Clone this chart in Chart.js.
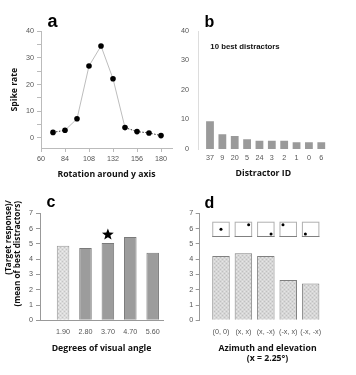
<!DOCTYPE html>
<html><head><meta charset="utf-8">
<script src="https://cdn.jsdelivr.net/npm/chart.js@4/dist/chart.umd.min.js"></script>
<style>
html,body{margin:0;padding:0;background:#fff;}
#wrap{position:relative;width:356px;height:375px;overflow:hidden;background:#fff;}
canvas{position:absolute;}
</style></head><body>
<div id="wrap">
<canvas id="ca" width="178" height="187" style="left:0;top:0"></canvas>
<canvas id="cb" width="178" height="187" style="left:178px;top:0"></canvas>
<canvas id="cc" width="178" height="188" style="left:0;top:187px"></canvas>
<canvas id="cd" width="178" height="188" style="left:178px;top:187px"></canvas>
</div>
<script>
// ---- Panel a: spike rate vs rotation ----
const rotationAngles = [72, 84, 96, 108, 120, 132, 144, 156, 168, 180];
const spikeRates = [2.1, 2.9, 7.2, 27, 34.5, 22.2, 3.9, 2.4, 1.9, 0.9];
const rotationTicks = [60, 84, 108, 132, 156, 180];
const spikeTicks = [0, 5, 10, 15, 20, 25, 30, 35, 40];
// ---- Panel b: 10 best distractors ----
const distractorIds = ['37', '9', '20', '5', '24', '3', '2', '1', '0', '6'];
const distractorRates = [9.4, 5.0, 4.4, 3.3, 2.8, 2.8, 2.8, 2.3, 2.3, 2.3];
const distractorTicks = [0, 10, 20, 30, 40];
// ---- Panel c: size invariance ----
const visualAngles = ['1.90', '2.80', '3.70', '4.70', '5.60'];
const sizeRatios = [4.88, 4.73, 5.05, 5.45, 4.42];
const sizeSignificant = [false, false, true, false, false];
// ---- Panel d: position invariance ----
const positions = ['(0, 0)', '(x, x)', '(x, -x)', '(-x, x)', '(-x, -x)'];
const positionRatios = [4.2, 4.38, 4.2, 2.64, 2.4];
const azimuthSign = [0, 1, 1, -1, -1];
const elevationSign = [0, 1, -1, 1, -1];
const ratioTicks = [0, 1, 2, 3, 4, 5, 6, 7];

const TICK_FONT = {family: "'Liberation Sans', Arial, sans-serif", size: 7.2};
const TITLE_FONT = {family: "'Open Sans', sans-serif", size: 8.7, weight: 'bold', lineHeight: 1.2};
const TICK_COLOR = '#555';
const LETTER_FONT = 'bold 18px "Liberation Sans", Arial, sans-serif';
const LETTER_FONT_S = 'bold 16px "Liberation Sans", Arial, sans-serif';

function makeDeco(texts) {
  return {
    id: 'deco',
    afterDraw(chart) {
      const ctx = chart.ctx;
      texts.forEach(t => {
        ctx.save();
        ctx.font = t.font; ctx.fillStyle = t.color || '#000';
        ctx.textAlign = t.align || 'left'; ctx.textBaseline = t.baseline || 'alphabetic';
        ctx.translate(t.x, t.y); if (t.rot) ctx.rotate(t.rot);
        ctx.fillText(t.text, 0, 0);
        ctx.restore();
      });
    }
  };
}
function stipple(base, dark, light) {
  const c = document.createElement('canvas'); c.width = 4; c.height = 4;
  const g = c.getContext('2d');
  g.fillStyle = base; g.fillRect(0, 0, 4, 4);
  g.fillStyle = dark; g.fillRect(0, 0, 1, 1); g.fillRect(2, 2, 1, 1);
  g.fillStyle = light; g.fillRect(2, 0, 1, 1); g.fillRect(0, 2, 1, 1);
  return g.createPattern(c, 'repeat');
}
const setTicks = arr => s => { s.ticks = arr.map(v => ({value: v})); };
const baseOpts = {responsive: false, animation: false, plugins: {legend: {display: false}, tooltip: {enabled: false}}};

// ---- a ----
const isDashed = c => c.p0DataIndex === 0 || c.p0DataIndex >= 6;
new Chart(document.getElementById('ca'), {
  type: 'line',
  data: {datasets: [{
    data: rotationAngles.map((x, i) => ({x, y: spikeRates[i]})),
    borderColor: '#bdbdbd', borderWidth: 1, tension: 0,
    pointRadius: 2.8, pointBackgroundColor: '#000', pointBorderWidth: 0,
    segment: {borderColor: c => isDashed(c) ? '#333' : undefined, borderDash: c => isDashed(c) ? [1.5, 1.5] : undefined}
  }]},
  options: Object.assign({}, baseOpts, {
    layout: {padding: {left: 0, top: 31.3, right: 6, bottom: 0}},
    scales: {
      x: {type: 'linear', min: 60, max: 191, afterBuildTicks: setTicks(rotationTicks), afterFit: s => { s.height = 39; },
        grid: {drawOnChartArea: false, tickLength: 4, color: '#bbb'}, border: {color: '#bbb'},
        ticks: {font: TICK_FONT, color: TICK_COLOR, padding: 2.8, maxRotation: 0, autoSkip: false},
        title: {display: true, text: 'Rotation around y axis', font: TITLE_FONT, color: '#111', padding: {top: 0, bottom: 7.5}}},
      y: {min: -3.75, max: 40, afterBuildTicks: setTicks(spikeTicks), afterFit: s => { s.width = 41; },
        grid: {drawOnChartArea: false, tickLength: 4, color: '#bbb'}, border: {color: '#bbb'},
        ticks: {font: TICK_FONT, color: TICK_COLOR, padding: 3, callback: v => v % 10 === 0 ? v : ''},
        title: {display: true, text: 'Spike rate', font: TITLE_FONT, color: '#111', padding: {top: 9.5, bottom: 0}}}
    }
  }),
  plugins: [makeDeco([{text: 'a', x: 47.5, y: 27.3, font: LETTER_FONT}])]
});

// ---- b ----
new Chart(document.getElementById('cb'), {
  type: 'bar',
  data: {datasets: [{
    data: distractorRates.map((y, i) => ({x: i, y})),
    backgroundColor: '#9a9a9a', borderWidth: 0, barPercentage: 0.63, categoryPercentage: 1
  }]},
  options: Object.assign({}, baseOpts, {
    layout: {padding: {left: 0, top: 31, right: 27.3, bottom: 0}},
    scales: {
      x: {type: 'linear', min: -0.97, max: 9.6, offset: false, afterBuildTicks: setTicks(distractorIds.map((_, i) => i)), afterFit: s => { s.height = 38; },
        grid: {display: false, drawTicks: false, offset: false}, border: {display: false},
        ticks: {font: TICK_FONT, color: TICK_COLOR, padding: 5, maxRotation: 0, autoSkip: false, callback: v => distractorIds[v]},
        title: {display: true, text: 'Distractor ID', font: TITLE_FONT, color: '#111', padding: {top: 0, bottom: 7.9}}},
      y: {min: 0, max: 40, afterBuildTicks: setTicks(distractorTicks), afterFit: s => { s.width = 20; },
        grid: {display: false, drawTicks: false}, border: {color: '#ddd'},
        ticks: {font: TICK_FONT, color: TICK_COLOR, padding: 9}}
    }
  }),
  plugins: [makeDeco([
    {text: 'b', x: 26.5, y: 26.7, font: LETTER_FONT_S},
    {text: '10 best distractors', x: 32.3, y: 48.7, font: 'bold 7.8px "Liberation Sans", Arial, sans-serif', color: '#111'}
  ])]
});

// ---- c ----
const starPlugin = {
  id: 'star',
  afterDatasetsDraw(chart) {
    const meta = chart.getDatasetMeta(0); const ctx = chart.ctx;
    sizeSignificant.forEach((sig, i) => {
      if (!sig) return;
      const bar = meta.data[i]; const cx = bar.x, cy = bar.y - 8.5;
      ctx.save(); ctx.beginPath();
      for (let k = 0; k < 10; k++) {
        const r = k % 2 === 0 ? 6.2 : 2.6; const a = -Math.PI / 2 + k * Math.PI / 5;
        const px = cx + r * Math.cos(a), py = cy + r * Math.sin(a);
        k === 0 ? ctx.moveTo(px, py) : ctx.lineTo(px, py);
      }
      ctx.closePath(); ctx.fillStyle = '#000'; ctx.fill(); ctx.restore();
    });
  }
};
const lightC = stipple('#dcdcdc', '#c4c4c4', '#ececec');
new Chart(document.getElementById('cc'), {
  type: 'bar',
  data: {datasets: [{
    data: sizeRatios.map((y, i) => ({x: i, y})),
    backgroundColor: sizeRatios.map((_, i) => i === 0 ? lightC : '#9c9c9c'),
    borderColor: sizeRatios.map((_, i) => i === 0 ? '#9a9a9a' : '#7a7a7a'),
    borderWidth: 1, barPercentage: 0.56, categoryPercentage: 1
  }]},
  options: Object.assign({}, baseOpts, {
    layout: {padding: {left: 0, top: 26.3, right: 15, bottom: 0}},
    scales: {
      x: {type: 'linear', min: -1.03, max: 4.46, offset: false, afterBuildTicks: setTicks(visualAngles.map((_, i) => i)), afterFit: s => { s.height = 54.7; },
        grid: {display: false, drawTicks: false, offset: false}, border: {color: '#999'},
        ticks: {font: TICK_FONT, color: TICK_COLOR, padding: 7.2, maxRotation: 0, autoSkip: false, callback: v => visualAngles[v]},
        title: {display: true, text: 'Degrees of visual angle', font: TITLE_FONT, color: '#111', padding: {top: 0, bottom: 21.4}}},
      y: {min: 0, max: 7, afterBuildTicks: setTicks(ratioTicks), afterFit: s => { s.width = 40; },
        grid: {drawOnChartArea: false, tickLength: 4, color: '#999'}, border: {color: '#999'},
        ticks: {font: TICK_FONT, color: TICK_COLOR, padding: 3}}
    }
  }),
  plugins: [starPlugin, makeDeco([
    {text: 'c', x: 46.5, y: 20.3, font: LETTER_FONT_S},
    {text: '(Target response)/', x: 8.5, y: 13, rot: -Math.PI / 2, align: 'right', baseline: 'middle', font: 'bold 8.2px "Open Sans", sans-serif', color: '#111'},
    {text: '(mean of best distractors)', x: 18, y: 14, rot: -Math.PI / 2, align: 'right', baseline: 'middle', font: 'bold 8.2px "Open Sans", sans-serif', color: '#111'}
  ])]
});

// ---- d ----
const iconPlugin = {
  id: 'icons',
  afterDatasetsDraw(chart) {
    const meta = chart.getDatasetMeta(0); const ctx = chart.ctx; const y = chart.scales.y;
    const top = y.getPixelForValue(6.45), bot = y.getPixelForValue(5.45);
    meta.data.forEach((bar, i) => {
      const hw = bar.width / 2, cx = bar.x, cy = (top + bot) / 2, hh = (bot - top) / 2;
      ctx.save();
      ctx.strokeStyle = '#b0b0b0'; ctx.lineWidth = 1;
      ctx.strokeRect(cx - hw + 0.5, top + 0.5, hw * 2 - 1, bot - top - 1);
      ctx.strokeStyle = '#808080';
      ctx.beginPath(); ctx.moveTo(cx - hw, bot - 0.5); ctx.lineTo(cx + hw, bot - 0.5); ctx.stroke();
      ctx.fillStyle = '#000'; ctx.beginPath();
      ctx.arc(cx + azimuthSign[i] * (hw - 3.5), cy - elevationSign[i] * (hh - 3), 1.5, 0, Math.PI * 2);
      ctx.fill(); ctx.restore();
    });
  }
};
const lightD = stipple('#d6d6d6', '#c0c0c0', '#e6e6e6');
new Chart(document.getElementById('cd'), {
  type: 'bar',
  data: {datasets: [{
    data: positionRatios.map((y, i) => ({x: i, y})),
    backgroundColor: lightD, borderColor: '#808080', borderWidth: 1, barPercentage: 0.78, categoryPercentage: 1
  }]},
  options: Object.assign({}, baseOpts, {
    layout: {padding: {left: 0, top: 26.3, right: 20.7, bottom: 0}},
    scales: {
      x: {type: 'linear', min: -0.95, max: 5.1, offset: false, afterBuildTicks: setTicks(positions.map((_, i) => i)), afterFit: s => { s.height = 54.7; },
        grid: {display: false, drawTicks: false, offset: false}, border: {display: false},
        ticks: {font: TICK_FONT, color: TICK_COLOR, padding: 7.2, maxRotation: 0, autoSkip: false, callback: v => positions[v]},
        title: {display: true, text: ['Azimuth and elevation', '(x = 2.25°)'], font: Object.assign({}, TITLE_FONT, {lineHeight: 9.5 / 8.7}), color: '#111', padding: {top: 0, bottom: 11.75}}},
      y: {min: 0, max: 7, afterBuildTicks: setTicks(ratioTicks), afterFit: s => { s.width = 21.7; },
        grid: {drawOnChartArea: false, tickLength: 4, color: '#999'}, border: {color: '#999'},
        ticks: {font: TICK_FONT, color: TICK_COLOR, padding: 2.5}}
    }
  }),
  plugins: [iconPlugin, makeDeco([{text: 'd', x: 26.5, y: 21.3, font: LETTER_FONT_S}])]
});
</script>
</body></html>
